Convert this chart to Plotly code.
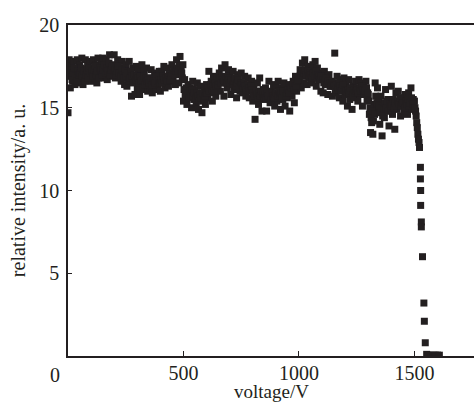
import plotly.graph_objects as go

voltage = [
    0, 5, 10, 15, 20, 25, 30, 35, 40, 45,
    50, 55, 60, 65, 70, 75, 80, 85, 90, 95,
    100, 105, 110, 115, 120, 125, 130, 135, 140, 145,
    150, 155, 160, 165, 170, 175, 180, 185, 190, 195,
    200, 205, 210, 215, 220, 225, 230, 235, 240, 245,
    250, 255, 260, 265, 270, 275, 280, 285, 290, 295,
    300, 305, 310, 315, 320, 325, 330, 335, 340, 345,
    350, 355, 360, 365, 370, 375, 380, 385, 390, 395,
    400, 405, 410, 415, 420, 425, 430, 435, 440, 445,
    450, 455, 460, 465, 470, 475, 480, 485, 490, 495,
    500, 505, 510, 515, 520, 525, 530, 535, 540, 545,
    550, 555, 560, 565, 570, 575, 580, 585, 590, 595,
    600, 605, 610, 615, 620, 625, 630, 635, 640, 645,
    650, 655, 660, 665, 670, 675, 680, 685, 690, 695,
    700, 705, 710, 715, 720, 725, 730, 735, 740, 745,
    750, 755, 760, 765, 770, 775, 780, 785, 790, 795,
    800, 805, 810, 815, 820, 825, 830, 835, 840, 845,
    850, 855, 860, 865, 870, 875, 880, 885, 890, 895,
    900, 905, 910, 915, 920, 925, 930, 935, 940, 945,
    950, 955, 960, 965, 970, 975, 980, 985, 990, 995,
    1000, 1005, 1010, 1015, 1020, 1025, 1030, 1035, 1040, 1045,
    1050, 1055, 1060, 1065, 1070, 1075, 1080, 1085, 1090, 1095,
    1100, 1105, 1110, 1115, 1120, 1125, 1130, 1135, 1140, 1145,
    1150, 1155, 1160, 1165, 1170, 1175, 1180, 1185, 1190, 1195,
    1200, 1205, 1210, 1215, 1220, 1225, 1230, 1235, 1240, 1245,
    1250, 1255, 1260, 1265, 1270, 1275, 1280, 1285, 1290, 1295,
    1300, 1305, 1310, 1315, 1320, 1325, 1330, 1335, 1340, 1345,
    1350, 1355, 1360, 1365, 1370, 1375, 1380, 1385, 1390, 1395,
    1400, 1405, 1410, 1415, 1420, 1425, 1430, 1435, 1440, 1445,
    1450, 1455, 1460, 1465, 1470, 1475, 1480, 1485, 1490, 1495,
    1500, 1505, 1510, 1515, 1520,
    1522, 1526, 1526, 1527, 1527, 1530, 1530, 1535, 1541, 1543,
    1547, 1553, 1560, 1570, 1580, 1590, 1600, 1608,
]

intensity = [
    14.7, 17.9, 16.2, 17.5, 16.6, 17.8, 16.4, 17.2, 17.9, 16.5,
    17.6, 16.8, 18.0, 16.4, 17.3, 17.9, 16.7, 17.5, 16.9, 17.8,
    16.6, 17.4, 17.9, 16.8, 17.6, 16.5, 18.0, 17.1, 16.9, 17.7,
    18.0, 16.8, 17.5, 17.9, 16.7, 17.3, 18.2, 16.9, 17.6, 17.0,
    18.2, 16.8, 17.5, 17.9, 16.9, 17.4, 16.6, 17.8, 17.1, 16.4,
    17.6, 16.3, 17.2, 17.8, 16.6, 15.7, 17.4, 16.9, 15.8, 17.5,
    16.2, 17.3, 15.8, 16.9, 17.6, 16.1, 17.2, 16.5, 17.4, 16.0,
    16.8, 16.2, 17.3, 15.9, 16.7, 17.1, 16.1, 16.9, 16.4, 17.2,
    16.0, 17.2, 16.6, 17.5, 16.2, 16.9, 17.4, 16.3, 17.0, 16.6,
    17.6, 16.7, 17.3, 16.4, 17.9, 17.0, 16.5, 18.1, 17.4, 16.8,
    15.4, 16.7, 15.9, 15.2, 16.4, 15.7, 16.2, 15.0, 16.6, 15.5,
    16.1, 15.3, 16.5, 14.9, 15.8, 16.3, 14.7, 15.6, 16.0, 15.2,
    16.4, 15.6, 17.2, 15.9, 16.6, 15.4, 16.9, 16.1, 15.7, 16.8,
    16.3, 17.1, 16.0, 17.4, 16.5, 15.7, 17.6, 16.8, 16.2, 17.3,
    16.9, 15.8, 16.6, 17.2, 16.1, 16.7, 15.6, 17.0, 16.4, 16.0,
    17.1, 15.9, 16.5, 16.9, 15.7, 16.3, 16.8, 15.6, 16.2, 16.6,
    15.4, 16.3, 14.3, 15.9, 16.5, 15.2, 16.8, 15.6, 14.8, 16.1,
    15.5, 16.2, 14.8, 15.9, 16.6, 15.3, 16.0, 15.6, 16.4, 15.1,
    16.3, 15.4, 16.6, 15.8, 14.9, 16.2, 15.5, 16.5, 15.1, 16.0,
    15.6, 16.4, 14.8, 16.1, 15.7, 16.6, 15.3, 16.9, 16.0, 16.5,
    16.7, 17.3, 16.2, 17.7, 16.5, 17.9, 17.1, 16.4, 17.5, 16.8,
    17.2, 16.5, 17.6, 16.9, 17.8, 16.3, 17.4, 16.7, 17.1, 16.0,
    16.8, 15.9, 17.2, 16.4, 16.9, 15.8, 17.0, 16.3, 16.6, 15.7,
    16.5, 18.3, 15.9, 16.9, 16.1, 15.6, 16.7, 16.2, 15.4, 16.8,
    15.8, 16.4, 15.1, 16.7, 15.5, 16.1, 14.9, 16.3, 15.6, 16.6,
    16.2, 15.4, 16.7, 15.8, 16.5, 15.1, 16.3, 15.9, 16.6, 15.5,
    15.8, 14.6, 13.5, 14.1, 13.4, 15.2, 16.5, 14.9, 16.2, 15.6,
    14.0, 15.7, 13.3, 15.2, 14.4, 16.1, 14.8, 15.5, 13.9, 15.0,
    16.3, 14.6, 15.4, 13.7, 15.9, 14.9, 16.0, 15.2, 14.5, 15.6,
    15.1, 14.8, 15.8, 15.3, 14.6, 15.9, 15.0, 16.2, 14.9, 15.5,
    15.4, 14.8, 14.1, 13.4, 12.9,
    12.6, 11.4, 10.7, 10.0, 9.1, 8.1, 7.8, 6.0, 3.2, 2.1,
    0.8, 0.1, 0.05, 0.05, 0.05, 0.05, 0.05, 0.05,
]

voltage_b = [
    2.5, 7.5, 12.5, 17.5, 22.5, 27.5, 32.5, 37.5, 42.5, 47.5,
    52.5, 57.5, 62.5, 67.5, 72.5, 77.5, 82.5, 87.5, 92.5, 97.5,
    102.5, 107.5, 112.5, 117.5, 122.5, 127.5, 132.5, 137.5, 142.5, 147.5,
    152.5, 157.5, 162.5, 167.5, 172.5, 177.5, 182.5, 187.5, 192.5, 197.5,
    202.5, 207.5, 212.5, 217.5, 222.5, 227.5, 232.5, 237.5, 242.5, 247.5,
    252.5, 257.5, 262.5, 267.5, 272.5, 277.5, 282.5, 287.5, 292.5, 297.5,
    302.5, 307.5, 312.5, 317.5, 322.5, 327.5, 332.5, 337.5, 342.5, 347.5,
    352.5, 357.5, 362.5, 367.5, 372.5, 377.5, 382.5, 387.5, 392.5, 397.5,
    402.5, 407.5, 412.5, 417.5, 422.5, 427.5, 432.5, 437.5, 442.5, 447.5,
    452.5, 457.5, 462.5, 467.5, 472.5, 477.5, 482.5, 487.5, 492.5, 497.5,
    502.5, 507.5, 512.5, 517.5, 522.5, 527.5, 532.5, 537.5, 542.5, 547.5,
    552.5, 557.5, 562.5, 567.5, 572.5, 577.5, 582.5, 587.5, 592.5, 597.5,
    602.5, 607.5, 612.5, 617.5, 622.5, 627.5, 632.5, 637.5, 642.5, 647.5,
    652.5, 657.5, 662.5, 667.5, 672.5, 677.5, 682.5, 687.5, 692.5, 697.5,
    702.5, 707.5, 712.5, 717.5, 722.5, 727.5, 732.5, 737.5, 742.5, 747.5,
    752.5, 757.5, 762.5, 767.5, 772.5, 777.5, 782.5, 787.5, 792.5, 797.5,
    802.5, 807.5, 812.5, 817.5, 822.5, 827.5, 832.5, 837.5, 842.5, 847.5,
    852.5, 857.5, 862.5, 867.5, 872.5, 877.5, 882.5, 887.5, 892.5, 897.5,
    902.5, 907.5, 912.5, 917.5, 922.5, 927.5, 932.5, 937.5, 942.5, 947.5,
    952.5, 957.5, 962.5, 967.5, 972.5, 977.5, 982.5, 987.5, 992.5, 997.5,
    1002.5, 1007.5, 1012.5, 1017.5, 1022.5, 1027.5, 1032.5, 1037.5, 1042.5, 1047.5,
    1052.5, 1057.5, 1062.5, 1067.5, 1072.5, 1077.5, 1082.5, 1087.5, 1092.5, 1097.5,
    1102.5, 1107.5, 1112.5, 1117.5, 1122.5, 1127.5, 1132.5, 1137.5, 1142.5, 1147.5,
    1152.5, 1157.5, 1162.5, 1167.5, 1172.5, 1177.5, 1182.5, 1187.5, 1192.5, 1197.5,
    1202.5, 1207.5, 1212.5, 1217.5, 1222.5, 1227.5, 1232.5, 1237.5, 1242.5, 1247.5,
    1252.5, 1257.5, 1262.5, 1267.5, 1272.5, 1277.5, 1282.5, 1287.5, 1292.5, 1297.5,
    1302.5, 1307.5, 1312.5, 1317.5, 1322.5, 1327.5, 1332.5, 1337.5, 1342.5, 1347.5,
    1352.5, 1357.5, 1362.5, 1367.5, 1372.5, 1377.5, 1382.5, 1387.5, 1392.5, 1397.5,
    1402.5, 1407.5, 1412.5, 1417.5, 1422.5, 1427.5, 1432.5, 1437.5, 1442.5, 1447.5,
    1452.5, 1457.5, 1462.5, 1467.5, 1472.5, 1477.5, 1482.5, 1487.5, 1492.5, 1497.5,
    1502.5, 1507.5, 1512.5, 1517.5,
]

intensity_b = [
    17.0, 16.9, 17.3, 16.7, 17.1, 17.4, 16.9, 16.6, 17.2, 17.0,
    17.1, 17.4, 16.9, 17.2, 16.6, 17.0, 17.3, 16.8, 17.4, 17.1,
    17.2, 16.9, 17.3, 17.5, 17.0, 17.2, 16.8, 17.4, 17.3, 17.0,
    17.3, 17.6, 17.1, 17.4, 17.2, 17.7, 17.0, 17.3, 17.5, 17.2,
    17.3, 17.0, 17.2, 17.5, 17.1, 16.9, 17.3, 17.0, 16.8, 17.2,
    16.9, 17.1, 16.6, 16.8, 17.2, 16.9, 16.5, 17.0, 16.7, 16.9,
    16.8, 16.5, 16.9, 16.6, 16.7, 16.9, 16.4, 16.8, 16.6, 16.7,
    16.5, 16.7, 16.4, 16.8, 16.6, 16.5, 16.9, 16.6, 16.7, 16.5,
    16.7, 16.5, 16.9, 16.7, 16.8, 16.6, 16.9, 17.0, 16.7, 16.9,
    17.1, 17.3, 17.0, 17.2, 17.4, 17.2, 17.5, 17.3, 17.1, 17.6,
    16.1, 15.8, 16.2, 15.9, 15.6, 16.0, 15.8, 16.1, 15.7, 15.9,
    15.6, 15.9, 15.7, 15.4, 15.8, 15.6, 15.9, 15.5, 15.7, 15.9,
    15.9, 16.2, 16.0, 16.4, 16.1, 16.3, 16.0, 16.5, 16.3, 16.4,
    16.6, 16.8, 16.5, 16.9, 16.7, 16.6, 16.9, 16.5, 16.8, 16.7,
    16.5, 16.7, 16.4, 16.6, 16.8, 16.3, 16.5, 16.7, 16.2, 16.5,
    16.4, 16.2, 16.5, 16.3, 16.1, 16.4, 16.2, 16.0, 16.3, 16.1,
    15.9, 15.7, 16.0, 15.8, 15.6, 15.9, 15.7, 16.0, 15.8, 15.6,
    15.8, 15.6, 15.9, 15.7, 15.8, 15.5, 15.9, 15.7, 15.6, 15.8,
    15.9, 15.7, 16.0, 15.8, 15.9, 15.6, 16.0, 15.8, 15.7, 15.9,
    16.1, 15.9, 16.3, 16.2, 16.4, 16.1, 16.5, 16.3, 16.6, 16.7,
    16.9, 17.0, 17.2, 16.9, 17.1, 17.3, 17.0, 17.2, 16.9, 17.1,
    17.0, 16.8, 17.1, 16.9, 17.2, 16.8, 17.0, 16.9, 16.7, 16.9,
    16.7, 16.5, 16.6, 16.8, 16.4, 16.6, 16.5, 16.3, 16.5, 16.4,
    16.3, 16.1, 16.4, 16.2, 16.5, 16.3, 16.0, 16.2, 16.4, 16.1,
    16.0, 15.8, 16.1, 15.9, 16.2, 16.0, 15.8, 16.1, 15.9, 16.0,
    16.1, 15.9, 16.2, 16.0, 16.3, 16.1, 15.8, 16.0, 16.2, 15.9,
    15.4, 15.0, 14.4, 14.8, 14.2, 14.6, 15.7, 15.3, 15.6, 15.1,
    14.7, 15.0, 14.5, 14.9, 15.3, 15.0, 15.4, 14.8, 15.2, 15.1,
    15.2, 15.5, 15.0, 15.3, 15.1, 15.4, 15.2, 15.6, 15.1, 15.3,
    15.3, 15.0, 15.4, 15.2, 15.5, 15.1, 15.3, 15.6, 15.2, 15.0,
    15.0, 14.5, 13.8, 13.1,
]

x_tick_vals = [500, 1000, 1500]
x_tick_text = ["500", "1000", "1500"]
y_tick_vals = [5, 10, 15, 20]
y_tick_text = ["5", "10", "15", "20"]
x_origin_label = "0"
x_title = "voltage/V"
y_title = "relative intensity/a. u."

ink = "#231f20"
font_family = "Liberation Serif, Times New Roman, serif"
marker_style = dict(symbol="square", size=7, color=ink, line=dict(width=0))

fig = go.Figure()
fig.add_trace(go.Scatter(
    x=voltage, y=intensity, mode="markers", marker=marker_style,
    showlegend=False, hoverinfo="skip",
))
fig.add_trace(go.Scatter(
    x=voltage_b, y=intensity_b, mode="markers", marker=marker_style,
    showlegend=False, hoverinfo="skip",
))

fig.add_annotation(
    x=0, y=0, xref="x", yref="y", text=x_origin_label, showarrow=False,
    xanchor="center", yanchor="top", xshift=-13, yshift=-6,
    font=dict(family=font_family, size=20, color=ink),
)
fig.add_annotation(
    x=0.5, y=-0.146, xref="paper", yref="paper", text=x_title, showarrow=False,
    xanchor="center", yanchor="bottom",
    font=dict(family=font_family, size=19, color=ink),
)

fig.update_layout(
    template="none",
    width=474, height=405,
    margin=dict(l=68, r=0, t=25, b=49),
    paper_bgcolor="white", plot_bgcolor="white",
    font=dict(family=font_family, size=20, color=ink),
    xaxis=dict(
        range=[0, 1758], tickvals=x_tick_vals, ticktext=x_tick_text,
        ticks="inside", ticklen=5, tickwidth=1, tickcolor=ink,
        showline=True, linewidth=1.5, linecolor=ink, mirror=True,
        showgrid=False, zeroline=False, ticklabelstandoff=-2, automargin=False,
    ),
    yaxis=dict(
        range=[0, 20], tickvals=y_tick_vals, ticktext=y_tick_text,
        ticks="inside", ticklen=4, tickwidth=1, tickcolor=ink,
        showline=True, linewidth=1.5, linecolor=ink, mirror=False,
        showgrid=False, zeroline=False, ticklabelstandoff=3, automargin=False,
        title=dict(text=y_title, font=dict(size=20), standoff=8),
    ),
)

fig.write_html("out.html")
